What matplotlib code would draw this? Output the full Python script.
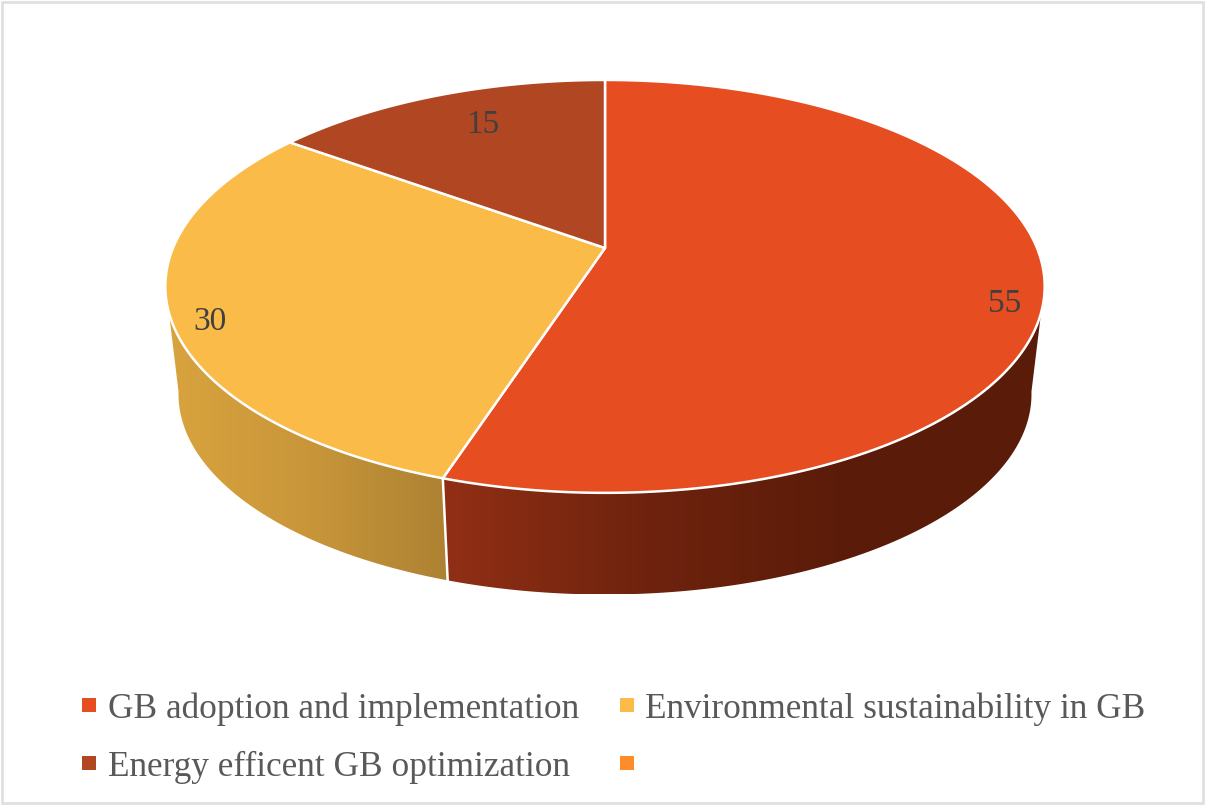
import numpy as np
import matplotlib
matplotlib.use("Agg")
import matplotlib.pyplot as plt
from matplotlib.colors import LinearSegmentedColormap
from matplotlib.patches import Polygon, Rectangle

# chart data
categories = ["GB adoption and implementation", "Environmental sustainability in GB",
              "Energy efficent GB optimization", ""]
values = [55, 30, 15, 0]
colors = ["#e64d20", "#fbbb48", "#b04722", "#ff8c2b"]

# side wall gradients, left to right
side_colors = [["#912f15", "#6f230e", "#5a1c09", "#5a1c09"],
               ["#d9a43e", "#c9963a", "#ad8232"],
               ["#b04722", "#b04722"],
               ["#ff8c2b", "#ff8c2b"]]

# perspective of the pie disk, in pixels
cx, cy = 605, 248
rx, ry, k = 432, 199.3, 0.186
# bottom disk is further away so a bit smaller
scale_low, cy_low = 0.97, 357
# angles where the rim turns away from the viewer
rim_start, rim_end = 100, 260


def rim(theta, low=False):
    t = np.radians(theta)
    w = 1 + k * np.cos(t)
    x = rx * np.sin(t) / w
    y = -ry * np.cos(t) / w
    if low:
        return cx + scale_low * x, cy_low + scale_low * y
    return cx + x, cy + y


fig = plt.figure(figsize=(12.06, 8.06), dpi=100)
ax = fig.add_axes([0, 0, 1, 1])
plt.rcParams["font.family"] = ["Liberation Serif", "DejaVu Serif"]

# slice limits, clockwise from the top
edges = np.cumsum([0] + values) / np.sum(values) * 360

# side walls first, the top covers whatever sticks out
for i in range(len(values)):
    a = max(edges[i], rim_start)
    b = min(edges[i + 1], rim_end)
    if b <= a:
        continue
    th = np.linspace(a, b, 200)
    x_top, y_top = rim(th)
    x_low, y_low = rim(th[::-1], low=True)
    pts = np.column_stack([np.r_[x_top, x_low], np.r_[y_top, y_low]])
    cmap = LinearSegmentedColormap.from_list("side%d" % i, side_colors[i])
    x0, x1 = pts[:, 0].min(), pts[:, 0].max()
    im = ax.imshow(np.linspace(0, 1, 512).reshape(1, -1), cmap=cmap, aspect="auto",
                   extent=[x0, x1, pts[:, 1].max(), pts[:, 1].min()], zorder=1,
                   interpolation="bilinear")
    clip = Polygon(pts, closed=True, transform=ax.transData, fc="none", ec="none")
    ax.add_patch(clip)
    im.set_clip_path(clip)

# white seams between the side walls
for e in edges[1:-1]:
    if rim_start < e < rim_end:
        xa, ya = rim(e)
        xb, yb = rim(e, low=True)
        ax.plot([xa, xb], [ya, yb], color="white", lw=1.8, zorder=2)

# top of the pie
for i in range(len(values)):
    if values[i] == 0:
        continue
    th = np.linspace(edges[i], edges[i + 1], 300)
    x_top, y_top = rim(th)
    pts = np.column_stack([np.r_[cx, x_top], np.r_[cy, y_top]])
    ax.add_patch(Polygon(pts, closed=True, fc=colors[i], ec="white", lw=1.8,
                         joinstyle="round", zorder=3))

# value labels
label_pos = [(1005, 304), (210, 322), (483, 125)]
for v, (lx, ly) in zip(values, label_pos):
    ax.text(lx, ly, str(v), fontsize=24, color="#404040", ha="center", va="center", zorder=4)

# legend, two columns
legend_x = [(89, 108), (627, 645), (89, 108), (627, 645)]
legend_y = [705, 705, 763, 763]
for name, c, (mx, tx), ly in zip(categories, colors, legend_x, legend_y):
    ax.add_patch(Rectangle((mx - 7, ly - 7), 14, 14, fc=c, ec="none", zorder=4))
    ax.text(tx, ly, name, fontsize=25.4, color="#595959", ha="left", va="center_baseline", zorder=4)

# chart frame
ax.add_patch(Rectangle((2, 2), 1201, 801, fc="none", ec="#e0e0e0", lw=2, zorder=5))

ax.set_xlim(0, 1206)
ax.set_ylim(806, 0)
ax.axis("off")
fig.savefig("out.png", dpi=100, facecolor="white")
